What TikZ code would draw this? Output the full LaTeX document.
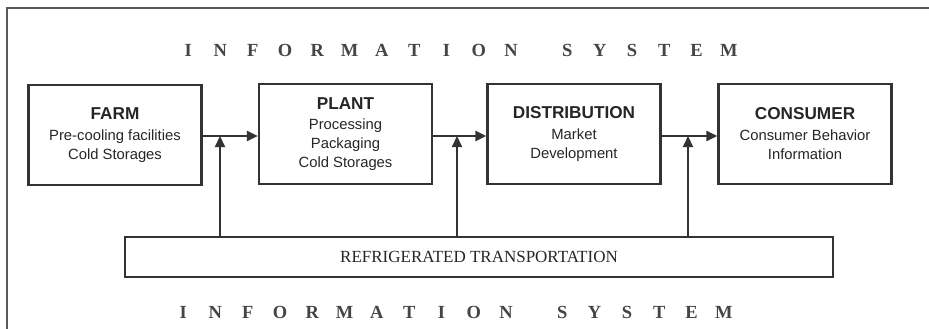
\documentclass[tikz,border=0pt]{standalone}
\usepackage{fontspec}
\setmainfont{Liberation Serif}
\setsansfont{Liberation Sans}
\usetikzlibrary{arrows.meta}

\definecolor{inkgray}{HTML}{333333}
\definecolor{textgray}{HTML}{262626}
\definecolor{capsgray}{HTML}{454545}

\newcommand\boxtitle[1]{{\fontsize{17.2}{20}\selectfont\bfseries #1}}
\newcommand\infoline{%
  \foreach \c in {I,N,F,O,R,M,A,T,I,O,N}{\makebox[32.3pt]{\c}}%
  \hspace{24pt}%
  \foreach \c in {S,Y,S,T,E,M}{\makebox[32.3pt]{\c}}}

\tikzset{
  stage/.style={draw=inkgray, line width=2.2pt, fill=white, minimum width=173pt,
    minimum height=100pt, align=center, text=textgray, inner sep=0pt,
    font=\sffamily\fontsize{14.8}{19}\selectfont},
  transport/.style={draw=inkgray, line width=2.2pt, minimum width=708pt,
    minimum height=40pt, inner sep=0pt, text=textgray,
    font=\fontsize{17}{20}\selectfont},
  infotext/.style={inner sep=0pt, text=capsgray, font=\bfseries\fontsize{18.5}{20}\selectfont},
  flow/.style={draw=inkgray, line width=2.1pt, -{Triangle[length=11pt,width=10pt]}},
  frame/.style={draw=black!65, line width=1.8pt}
}

\begin{document}
\begin{tikzpicture}[x=1pt, y=-1pt]
		\useasboundingbox [fill=white] (0, 0) rectangle (929, 329);
		\draw [frame] (7, 329) -- (7, 8) -- (929, 8);
		% supply chain stages
		\node [stage] (farm) at (115, 135) {\boxtitle{FARM}\\[2pt]Pre-cooling facilities\\Cold Storages};
		\node [stage] (plant) at (345.5, 134) {\boxtitle{PLANT}\\[1pt]Processing\\Packaging\\Cold Storages};
		\node [stage] (dist) at (574, 134) {\boxtitle{DISTRIBUTION}\\[2pt]Market\\Development};
		\node [stage] (cons) at (805, 134) {\boxtitle{CONSUMER}\\[2pt]Consumer Behavior\\Information};
		\node [transport] (trans) at (479, 257) {REFRIGERATED TRANSPORTATION};
		\node [infotext] (infotop) at (458.5, 50) {\infoline};
		\node [infotext] (infobot) at (453.5, 312) {\infoline};
		% junctions on the flow line
		\coordinate (j1) at (220, 136);
		\coordinate (j2) at (457, 136);
		\coordinate (j3) at (688, 136);
		\draw [flow] (farm.east |- j1) -- (plant.west |- j1);
		\draw [flow] (plant.east |- j2) -- (dist.west |- j2);
		\draw [flow] (dist.east |- j3) -- (cons.west |- j3);
		\draw [flow] (trans.north -| j1) -- (j1);
		\draw [flow] (trans.north -| j2) -- (j2);
		\draw [flow] (trans.north -| j3) -- (j3);
	\end{tikzpicture}
\end{document}
